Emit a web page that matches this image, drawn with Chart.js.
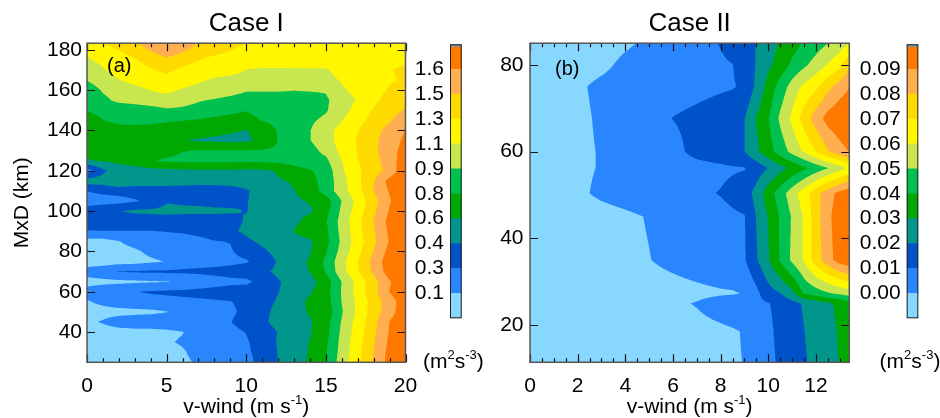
<!DOCTYPE html>
<html><head><meta charset="utf-8">
<script src="https://cdn.jsdelivr.net/npm/chart.js@4.4.1/dist/chart.umd.min.js"></script>
<style>
html,body{margin:0;padding:0;background:#fff;}
#wrap{position:relative;width:940px;height:418px;overflow:hidden;background:#fff;}
canvas{position:absolute;top:0;}
</style></head><body>
<div id="wrap">
<canvas id="cA" width="470" height="418" style="left:0px"></canvas>
<canvas id="cB" width="440" height="418" style="left:470px"></canvas>
<canvas id="bA" width="90" height="418" style="left:400px"></canvas>
<canvas id="bB" width="84" height="418" style="left:856px"></canvas>
</div>
<script>
// ---------------- DATA ----------------
const caseColors = ['#88d7ff','#2a86ff','#0052c8','#00968c','#00a800','#00c050','#c8e650','#fff600','#ffda00','#ffae50','#ff7800'];

// Case I
const caseI_vwind = [0,1,2,3,4,5,6,7,8,9,10,11,12,13,14,15,16,17,18,19,20];
const caseI_mxd = [25,30,35,40,45,50,55,60,65,70,75,80,85,90,95,100,105,110,115,120,125,130,135,140,145,150,155,160,165,170,175,180,185];
const caseI_levels = [0.145,0.315,0.485,0.655,0.825,0.995,1.165,1.335,1.505,1.675];
const caseI_cbarLabels = ['0.1','0.3','0.4','0.6','0.8','0.9','1.1','1.3','1.5','1.6'];
const caseI_xTicks = [0,5,10,15,20];
const caseI_xMinor = [1,2,3,4,6,7,8,9,11,12,13,14,16,17,18,19];
const caseI_yTicks = [40,60,80,100,120,140,160,180];
const caseI_rate = [
[0.06,0.06,0.06,0.06,0.07,0.09,0.12,0.16,0.22,0.26,0.25,0.39,0.49,0.60,0.67,0.83,1.08,1.30,1.52,1.74,1.90],
[0.06,0.06,0.06,0.07,0.08,0.09,0.13,0.19,0.23,0.26,0.29,0.37,0.49,0.57,0.67,0.81,1.06,1.28,1.51,1.73,1.88],
[0.06,0.06,0.07,0.08,0.09,0.13,0.16,0.21,0.25,0.28,0.30,0.38,0.50,0.59,0.66,0.79,1.05,1.27,1.49,1.71,1.86],
[0.06,0.07,0.08,0.09,0.09,0.11,0.14,0.21,0.25,0.27,0.32,0.40,0.49,0.57,0.64,0.77,1.03,1.25,1.47,1.69,1.85],
[0.11,0.16,0.23,0.25,0.26,0.26,0.27,0.28,0.29,0.31,0.38,0.45,0.54,0.59,0.64,0.76,1.01,1.23,1.45,1.68,1.83],
[0.08,0.09,0.09,0.10,0.11,0.14,0.21,0.25,0.26,0.29,0.35,0.43,0.54,0.60,0.67,0.72,0.98,1.20,1.42,1.61,1.79],
[0.13,0.18,0.23,0.25,0.26,0.27,0.28,0.29,0.30,0.31,0.35,0.43,0.50,0.57,0.69,0.74,1.00,1.20,1.41,1.59,1.79],
[0.20,0.25,0.28,0.31,0.33,0.34,0.35,0.36,0.37,0.38,0.40,0.43,0.48,0.55,0.64,0.76,1.01,1.23,1.45,1.68,1.83],
[0.09,0.10,0.11,0.12,0.13,0.14,0.15,0.21,0.25,0.28,0.28,0.37,0.47,0.55,0.59,0.74,1.00,1.22,1.44,1.66,1.81],
[0.21,0.26,0.32,0.33,0.34,0.34,0.35,0.35,0.36,0.37,0.40,0.45,0.52,0.59,0.66,0.84,1.10,1.32,1.54,1.76,1.91],
[0.06,0.06,0.08,0.09,0.12,0.15,0.21,0.25,0.26,0.28,0.30,0.38,0.50,0.60,0.67,0.86,1.11,1.34,1.56,1.78,1.93],
[0.06,0.07,0.09,0.12,0.18,0.23,0.25,0.26,0.28,0.30,0.37,0.45,0.54,0.59,0.64,0.81,1.06,1.28,1.51,1.73,1.88],
[0.08,0.09,0.14,0.20,0.23,0.25,0.26,0.28,0.31,0.32,0.45,0.52,0.57,0.60,0.63,0.77,1.03,1.25,1.47,1.69,1.85],
[0.31,0.31,0.31,0.31,0.31,0.32,0.33,0.35,0.38,0.45,0.52,0.57,0.60,0.66,0.74,0.79,1.05,1.27,1.49,1.71,1.86],
[0.37,0.38,0.40,0.40,0.40,0.40,0.40,0.40,0.42,0.43,0.50,0.55,0.59,0.62,0.71,0.81,1.06,1.28,1.51,1.73,1.88],
[0.40,0.43,0.48,0.51,0.52,0.53,0.52,0.52,0.51,0.50,0.48,0.54,0.59,0.62,0.63,0.77,1.03,1.25,1.47,1.69,1.85],
[0.23,0.25,0.26,0.30,0.35,0.47,0.46,0.45,0.44,0.45,0.48,0.52,0.57,0.62,0.67,0.74,1.00,1.22,1.44,1.66,1.81],
[0.32,0.35,0.37,0.38,0.40,0.42,0.42,0.42,0.42,0.43,0.47,0.55,0.60,0.65,0.74,0.89,1.10,1.27,1.51,1.69,1.81],
[0.57,0.57,0.66,0.59,0.57,0.55,0.54,0.53,0.53,0.54,0.55,0.59,0.64,0.67,0.77,0.89,1.10,1.30,1.49,1.74,1.85],
[0.23,0.45,0.59,0.60,0.60,0.61,0.62,0.63,0.63,0.63,0.62,0.62,0.67,0.76,0.81,0.89,1.14,1.30,1.44,1.55,1.85],
[0.64,0.67,0.69,0.71,0.81,0.85,0.86,0.86,0.86,0.86,0.85,0.86,0.87,0.89,0.93,0.96,1.16,1.33,1.45,1.58,1.79],
[0.70,0.72,0.74,0.74,0.76,0.77,0.82,0.83,0.83,0.83,0.83,0.84,0.85,0.89,0.94,1.04,1.22,1.34,1.46,1.62,1.73],
[0.74,0.74,0.74,0.74,0.73,0.71,0.66,0.64,0.63,0.62,0.63,0.69,0.83,0.91,0.99,1.09,1.24,1.35,1.47,1.59,1.71],
[0.74,0.76,0.77,0.77,0.77,0.76,0.72,0.71,0.69,0.67,0.65,0.71,0.84,0.91,0.99,1.10,1.23,1.33,1.45,1.56,1.68],
[0.76,0.82,0.86,0.87,0.86,0.84,0.83,0.81,0.79,0.77,0.77,0.83,0.88,0.91,0.97,1.03,1.16,1.28,1.39,1.49,1.61],
[0.83,0.87,0.89,0.91,0.93,0.97,0.96,0.93,0.89,0.86,0.83,0.88,0.91,0.93,0.93,0.98,1.10,1.23,1.35,1.44,1.52],
[0.89,0.96,1.03,1.05,1.08,1.10,1.06,1.01,0.98,0.94,0.91,0.91,0.91,0.91,0.91,0.97,1.08,1.18,1.30,1.40,1.47],
[0.91,1.01,1.06,1.11,1.17,1.20,1.15,1.11,1.10,1.07,1.01,1.01,1.01,1.00,1.01,1.01,1.14,1.22,1.27,1.35,1.40],
[1.00,1.08,1.16,1.22,1.25,1.28,1.23,1.19,1.14,1.11,1.10,1.10,1.10,1.10,1.10,1.11,1.18,1.25,1.28,1.32,1.35],
[1.08,1.15,1.23,1.28,1.32,1.37,1.30,1.27,1.25,1.23,1.16,1.15,1.15,1.15,1.15,1.15,1.23,1.27,1.30,1.33,1.36],
[1.15,1.20,1.25,1.32,1.39,1.47,1.40,1.34,1.28,1.25,1.23,1.23,1.23,1.23,1.25,1.25,1.27,1.27,1.28,1.30,1.31],
[1.18,1.27,1.34,1.42,1.52,1.62,1.54,1.45,1.40,1.34,1.30,1.27,1.25,1.25,1.25,1.25,1.25,1.25,1.25,1.27,1.29],
[1.28,1.35,1.45,1.52,1.61,1.67,1.61,1.52,1.45,1.40,1.35,1.30,1.27,1.25,1.25,1.25,1.25,1.25,1.25,1.25,1.27]
];

// Case II
const caseII_vwind = [0,1,2,3,4,5,6,7,8,8.5,9,9.5,10,10.5,11,11.5,12,12.5,13,13.4];
const caseII_mxd = [11.4,18.5,25,27.3,35,45,50.4,56.2,60,67.7,75,80,85];
const caseII_levels = [0.00,0.01,0.02,0.03,0.04,0.05,0.06,0.07,0.08,0.09];
const caseII_cbarLabels = ['0.00','0.01','0.02','0.03','0.04','0.05','0.06','0.07','0.08','0.09'];
const caseII_xTicks = [0,2,4,6,8,10,12];
const caseII_xMinor = [0.5,1,1.5,2.5,3,3.5,4.5,5,5.5,6.5,7,7.5,8.5,9,9.5,10.5,11,11.5,12.5,13];
const caseII_yTicks = [20,40,60,80];
const caseII_rate = [
[-0.005,-0.005,-0.005,-0.005,-0.0045,-0.004,-0.0035,-0.0025,-0.0015,-0.0008,0.0002,0.004,0.0075,0.0115,0.015,0.019,0.0225,0.026,0.0305,0.033],
[-0.005,-0.005,-0.005,-0.005,-0.0045,-0.004,-0.0035,-0.0025,-0.0015,-0.0008,0.0005,0.004,0.008,0.0125,0.016,0.0198,0.0235,0.027,0.031,0.0335],
[-0.005,-0.005,-0.005,-0.0045,-0.004,-0.003,-0.0015,0.0005,0.0035,0.005,0.0065,0.008,0.0095,0.013,0.017,0.021,0.0245,0.0285,0.032,0.036],
[-0.005,-0.005,-0.005,-0.0045,-0.004,-0.0035,-0.003,-0.002,-0.001,-0.0008,0.0005,0.0075,0.016,0.0198,0.027,0.041,0.045,0.049,0.052,0.055],
[-0.005,-0.0045,-0.004,-0.0035,-0.002,-0.0002,0.002,0.004,0.006,0.0075,0.009,0.019,0.029,0.041,0.052,0.061,0.075,0.086,0.095,0.098],
[-0.005,-0.0045,-0.004,-0.003,-0.0015,0.0005,0.003,0.005,0.007,0.0085,0.0095,0.0205,0.0305,0.041,0.051,0.061,0.0755,0.088,0.095,0.098],
[-0.005,-0.004,-0.0015,0.0015,0.0035,0.005,0.0065,0.008,0.0105,0.0125,0.015,0.0235,0.035,0.045,0.0555,0.0655,0.076,0.086,0.093,0.097],
[-0.005,-0.0035,-0.0015,0.0005,0.002,0.0035,0.005,0.0065,0.008,0.009,0.0095,0.0144,0.0204,0.0265,0.0324,0.0382,0.0441,0.0498,0.056,0.062],
[-0.005,-0.0035,-0.0015,0.0005,0.002,0.004,0.007,0.013,0.016,0.018,0.0198,0.028,0.036,0.0445,0.053,0.061,0.0698,0.079,0.086,0.0905],
[-0.005,-0.0035,-0.0015,0.001,0.0035,0.0065,0.0102,0.0125,0.015,0.017,0.0198,0.0304,0.0393,0.052,0.062,0.0748,0.0847,0.094,0.098,0.1],
[-0.005,-0.0035,-0.001,0.0015,0.0028,0.004,0.0055,0.007,0.0086,0.0093,0.0116,0.0221,0.0336,0.044,0.054,0.0622,0.0678,0.0768,0.0847,0.0895],
[-0.005,-0.0045,-0.003,-0.0015,0.0015,0.0035,0.005,0.0065,0.0085,0.0098,0.0145,0.0205,0.028,0.034,0.042,0.048,0.054,0.0605,0.067,0.079],
[-0.005,-0.005,-0.004,-0.003,-0.001,0.0012,0.004,0.007,0.0105,0.014,0.017,0.0202,0.0255,0.031,0.036,0.041,0.0455,0.0498,0.055,0.059]
];

const FONT = "'Liberation Sans', Arial, Helvetica, sans-serif";
const xTitleParts = [{t:'v-wind (m s'},{t:'-1',sup:true},{t:')'}];
const unitParts = [{t:'(m'},{t:'2',sup:true},{t:'s'},{t:'-3',sup:true},{t:')'}];

// ---------------- HELPERS ----------------
function drawRich(ctx, parts, cx, baseY, size) {
  ctx.save();
  ctx.fillStyle = '#000'; ctx.textBaseline = 'alphabetic'; ctx.textAlign = 'left';
  const big = size + 'px ' + FONT, small = Math.round(size * 0.64) + 'px ' + FONT;
  let w = 0;
  parts.forEach(p => { ctx.font = p.sup ? small : big; w += ctx.measureText(p.t).width; });
  let x = cx - w / 2;
  parts.forEach(p => {
    ctx.font = p.sup ? small : big;
    ctx.fillText(p.t, x, p.sup ? baseY - size * 0.42 : baseY);
    x += ctx.measureText(p.t).width;
  });
  ctx.restore();
}

function makeContour(xs, ys, z, levels, colors) {
  const rgb = colors.map(h => [parseInt(h.slice(1,3),16), parseInt(h.slice(3,5),16), parseInt(h.slice(5,7),16)]);
  function locate(arr, v) {
    const n = arr.length;
    if (v <= arr[0]) return [0, 0];
    if (v >= arr[n-1]) return [n-2, 1];
    let i = 0; while (i < n-2 && arr[i+1] < v) i++;
    return [i, (v - arr[i]) / (arr[i+1] - arr[i])];
  }
  function cls(v) { let k = 0; while (k < levels.length && v >= levels[k]) k++; return k; }
  return {
    id: 'contourFill',
    beforeDatasetsDraw(chart) {
      const {ctx, chartArea: a, scales} = chart;
      const sx = scales.x, sy = scales.y;
      const L = Math.round(a.left), T = Math.round(a.top), R = Math.round(a.right), B = Math.round(a.bottom);
      const W = R - L, H = B - T, S = 3;
      const colI = [], rowJ = [];
      for (let c = 0; c < W*S; c++) colI.push(locate(xs, sx.getValueForPixel(L + (c + 0.5) / S)));
      for (let r = 0; r < H*S; r++) rowJ.push(locate(ys, sy.getValueForPixel(T + (r + 0.5) / S)));
      const off = document.createElement('canvas'); off.width = W; off.height = H;
      const octx = off.getContext('2d'); const img = octx.createImageData(W, H); const d = img.data;
      const n = S * S;
      for (let py = 0; py < H; py++) {
        for (let px = 0; px < W; px++) {
          let r = 0, g = 0, b = 0;
          for (let j = 0; j < S; j++) {
            const rj = rowJ[py*S + j], jj = rj[0], u = rj[1];
            const z0 = z[jj], z1 = z[jj+1];
            for (let i = 0; i < S; i++) {
              const ci = colI[px*S + i], ii = ci[0], t = ci[1];
              const v = (z0[ii]*(1-t) + z0[ii+1]*t)*(1-u) + (z1[ii]*(1-t) + z1[ii+1]*t)*u;
              const c = rgb[cls(v)]; r += c[0]; g += c[1]; b += c[2];
            }
          }
          const o = (py*W + px) * 4;
          d[o] = r/n; d[o+1] = g/n; d[o+2] = b/n; d[o+3] = 255;
        }
      }
      octx.putImageData(img, 0, 0);
      ctx.drawImage(off, L, T);
    }
  };
}

function makeFrame(xMajor, xMinor, yMajor, tag) {
  return {
    id: 'frameTicks',
    afterDraw(chart) {
      const {ctx, chartArea: a, scales: {x, y}} = chart;
      ctx.save();
      ctx.strokeStyle = '#111'; ctx.lineWidth = 1.2;
      ctx.beginPath();
      const vt = (v, len) => { const p = Math.round(x.getPixelForValue(v)) + 0.5;
        ctx.moveTo(p, a.bottom); ctx.lineTo(p, a.bottom - len); ctx.moveTo(p, a.top); ctx.lineTo(p, a.top + len); };
      xMinor.forEach(v => vt(v, 4));
      xMajor.forEach(v => vt(v, 8));
      yMajor.forEach(v => { const p = Math.round(y.getPixelForValue(v)) + 0.5;
        ctx.moveTo(a.left, p); ctx.lineTo(a.left + 8, p); ctx.moveTo(a.right, p); ctx.lineTo(a.right - 8, p); });
      ctx.stroke();
      ctx.strokeStyle = '#555'; ctx.lineWidth = 1.5;
      ctx.strokeRect(a.left, a.top, a.right - a.left, a.bottom - a.top);
      // panel tag, e.g. "(a)"
      ctx.fillStyle = '#000'; ctx.font = '20px ' + FONT; ctx.textBaseline = 'alphabetic'; ctx.textAlign = 'left';
      ctx.fillText(tag.text, a.left + tag.dx, a.top + tag.dy);
      ctx.restore();
      drawRich(ctx, xTitleParts, (a.left + a.right) / 2, 413, 21);
    }
  };
}

function contourChart(id, cfg) {
  return new Chart(document.getElementById(id), {
    type: 'scatter',
    data: { datasets: [{ data: [], pointRadius: 0 }] },
    options: {
      responsive: false, animation: false, devicePixelRatio: 1, events: [],
      layout: { padding: { left: 0, right: cfg.padRight, top: 0, bottom: 0 } },
      plugins: {
        legend: { display: false }, tooltip: { enabled: false },
        title: { display: true, fullSize: false, text: cfg.title, color: '#000',
                 font: { family: FONT, size: 26, weight: 'normal' }, padding: { top: 8.7, bottom: 3.3 } }
      },
      scales: {
        x: { type: 'linear', min: cfg.xMin, max: cfg.xMax,
             grid: { display: false, drawTicks: false }, border: { display: false },
             ticks: { color: '#000', font: { family: FONT, size: 21 }, padding: 11, maxRotation: 0, autoSkip: false },
             afterBuildTicks: s => { s.ticks = cfg.xTicks.map(v => ({ value: v })); },
             afterFit: s => { s.height = 418 - 362.3; } },
        y: { type: 'linear', min: cfg.yMin, max: cfg.yMax,
             grid: { display: false, drawTicks: false }, border: { display: false },
             ticks: { color: '#000', font: { family: FONT, size: 21 }, padding: cfg.yPad, autoSkip: false },
             title: cfg.yTitle ? { display: true, text: cfg.yTitle, color: '#000',
                      font: { family: FONT, size: 21, lineHeight: 1 }, padding: { top: 11.5, bottom: 0 } } : { display: false },
             afterBuildTicks: s => { s.ticks = cfg.yTicks.map(v => ({ value: v })); },
             afterFit: s => { s.width = cfg.yWidth; } }
      }
    },
    plugins: [makeContour(cfg.xs, cfg.ys, cfg.z, cfg.levels, caseColors), makeFrame(cfg.xTicks, cfg.xMinor, cfg.yTicks, cfg.tag)]
  });
}

function colorbarChart(id, labels, leftW, padRight) {
  return new Chart(document.getElementById(id), {
    type: 'bar',
    data: { labels: [''], datasets: caseColors.map(c => ({ data: [1], backgroundColor: c, borderWidth: 0,
             barPercentage: 1, categoryPercentage: 1 })) },
    options: {
      responsive: false, animation: false, devicePixelRatio: 1, events: [],
      layout: { padding: { left: 0, right: padRight, top: 44.3, bottom: 0 } },
      plugins: { legend: { display: false }, tooltip: { enabled: false } },
      scales: {
        x: { stacked: true, grid: { display: false }, border: { display: false }, ticks: { display: false },
             afterFit: s => { s.height = 418 - 318.3; } },
        y: { stacked: true, min: 0, max: caseColors.length, position: 'left',
             grid: { display: false, drawTicks: false }, border: { display: false },
             ticks: { color: '#000', font: { family: FONT, size: 21 }, padding: 6,
                      callback: v => labels[v - 1] },
             afterBuildTicks: s => { s.ticks = labels.map((l, k) => ({ value: k + 1 })); },
             afterFit: s => { s.width = leftW; } }
      }
    },
    plugins: [{
      id: 'cbarFrame',
      afterDraw(chart) {
        const {ctx, chartArea: a} = chart;
        ctx.save();
        ctx.fillStyle = '#6f97b0';
        ctx.fillRect(a.left, a.top, a.right - a.left, 2.5);
        ctx.strokeStyle = '#222'; ctx.lineWidth = 1;
        ctx.strokeRect(a.left + 0.5, a.top + 0.5, a.right - a.left - 1, a.bottom - a.top - 1);
        ctx.restore();
        drawRich(ctx, unitParts, (a.left + a.right) / 2 - 2.5, 367.6, 21);
      }
    }]
  });
}

contourChart('cA', { title: 'Case I', xs: caseI_vwind, ys: caseI_mxd, z: caseI_rate, levels: caseI_levels,
  xMin: 0, xMax: 20, yMin: 25, yMax: 183.3, xTicks: caseI_xTicks, xMinor: caseI_xMinor, yTicks: caseI_yTicks,
  yTitle: 'MxD (km)', yWidth: 87, yPad: 5, padRight: 470 - 405.5, tag: { text: '(a)', dx: 20, dy: 29 } });
contourChart('cB', { title: 'Case II', xs: caseII_vwind, ys: caseII_mxd, z: caseII_rate, levels: caseII_levels,
  xMin: 0, xMax: 13.4, yMin: 11.4, yMax: 85, xTicks: caseII_xTicks, xMinor: caseII_xMinor, yTicks: caseII_yTicks,
  yTitle: null, yWidth: 60, yPad: 6.5, padRight: 440 - (849.3 - 470), tag: { text: '(b)', dx: 25, dy: 32 } });
colorbarChart('bA', caseI_cbarLabels, 50, 90 - 61.7);
colorbarChart('bB', caseII_cbarLabels, 50.7, 84 - 62.3);
</script>
</body></html>
